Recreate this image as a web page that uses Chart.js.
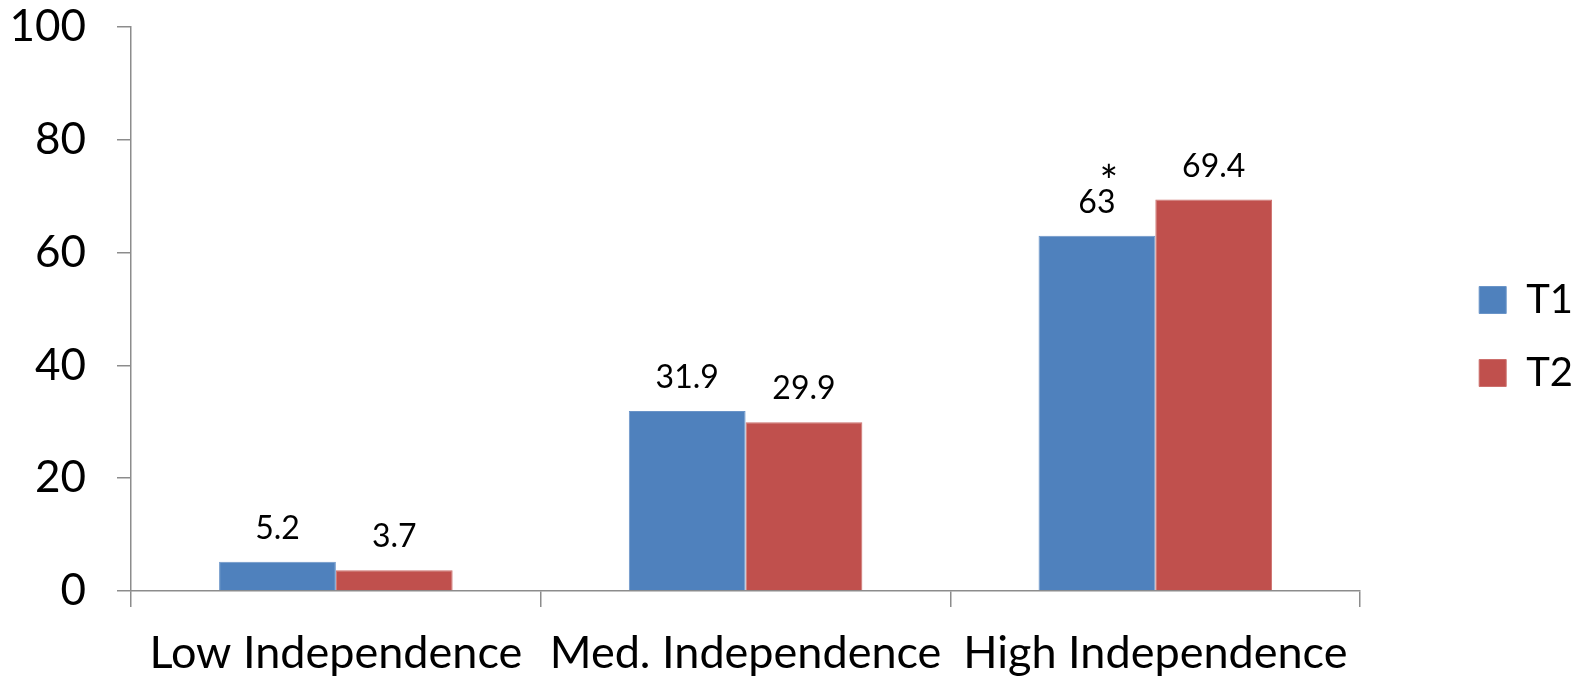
<!DOCTYPE html>
<html>
<head>
<meta charset="utf-8">
<script src="https://cdn.jsdelivr.net/npm/chart.js@4"></script>
<style>
  html, body { margin: 0; padding: 0; background: #ffffff; }
  #wrap { width: 1579px; height: 677px; }
</style>
</head>
<body>
<div id="wrap"><canvas id="chart" width="1579" height="677"></canvas></div>
<script>
// Share of respondents by independence level, two time points
const categories = ['Low Independence', 'Med. Independence', 'High Independence'];
const seriesNames = ['T1', 'T2'];
const t1Values = [5.2, 31.9, 63];
const t2Values = [3.7, 29.9, 69.4];
const yTicks = [0, 20, 40, 60, 80, 100];
// significance marker placed over a single bar
const markers = [{ series: 0, index: 2, text: '*' }];

const FONT = 'Lato, "Open Sans", sans-serif';
const AXIS_GREY = '#8c8c8c';
const LEGEND_PAD = 33;

// Writes each value above its bar, plus any significance marker
const valueLabels = {
  id: 'valueLabels',
  afterDatasetsDraw(chart) {
    const ctx = chart.ctx;
    ctx.save();
    ctx.fillStyle = '#000';
    ctx.textAlign = 'center';
    ctx.textBaseline = 'alphabetic';
    chart.data.datasets.forEach((ds, di) => {
      const meta = chart.getDatasetMeta(di);
      meta.data.forEach((bar, i) => {
        ctx.font = '32px ' + FONT;
        ctx.fillText(String(ds.data[i]), bar.x, bar.y - 23);
        markers.filter(m => m.series === di && m.index === i).forEach(m => {
          ctx.font = '44px ' + FONT;
          ctx.fillText(m.text, bar.x + 12, bar.y - 39);
        });
      });
    });
    ctx.restore();
  }
};

// Puts the legend a fixed gap to the right of the plot area
const legendGap = {
  id: 'legendGap',
  afterLayout(chart) {
    const lg = chart.legend;
    if (!lg) return;
    const dx = chart.chartArea.right + 119 - LEGEND_PAD - lg.left;
    lg.left += dx;
    lg.right += dx;
    lg.top -= 2;
    lg.bottom -= 2;
  }
};

new Chart(document.getElementById('chart'), {
  type: 'bar',
  data: {
    labels: categories,
    datasets: [
      { label: seriesNames[0], data: t1Values, backgroundColor: '#4f81bd', borderColor: '#6a94c8', borderWidth: 1 },
      { label: seriesNames[1], data: t2Values, backgroundColor: '#c0504d', borderColor: '#cc6f6c', borderWidth: 1 }
    ]
  },
  options: {
    responsive: false,
    animation: false,
    layout: { padding: { top: 0, right: 82, bottom: 0, left: 0 } },
    datasets: { bar: { categoryPercentage: 0.57, barPercentage: 1.0 } },
    plugins: {
      tooltip: { enabled: false },
      legend: {
        position: 'right',
        align: 'center',
        labels: {
          boxWidth: 27,
          boxHeight: 27,
          padding: LEGEND_PAD,
          color: '#000',
          font: { family: FONT, size: 40 }
        }
      }
    },
    scales: {
      x: {
        afterFit(scale) { scale.height = 86; },
        grid: { display: true, drawOnChartArea: false, offset: true, tickLength: 16, color: AXIS_GREY, lineWidth: 1.5 },
        border: { display: true, color: AXIS_GREY, width: 1.5 },
        ticks: { color: '#000', font: { family: FONT, size: 45 }, padding: 19, maxRotation: 0, autoSkip: false }
      },
      y: {
        min: 0,
        max: 100,
        afterBuildTicks(scale) { scale.ticks = yTicks.map(v => ({ value: v })); },
        afterFit(scale) { scale.width = 131; scale.paddingTop = 27; },
        grid: { display: true, drawOnChartArea: false, tickLength: 14, color: AXIS_GREY, lineWidth: 1.5 },
        border: { display: true, color: AXIS_GREY, width: 1.5 },
        ticks: { color: '#000', font: { family: FONT, size: 44 }, padding: 31 }
      }
    }
  },
  plugins: [valueLabels, legendGap]
});
</script>
</body>
</html>
